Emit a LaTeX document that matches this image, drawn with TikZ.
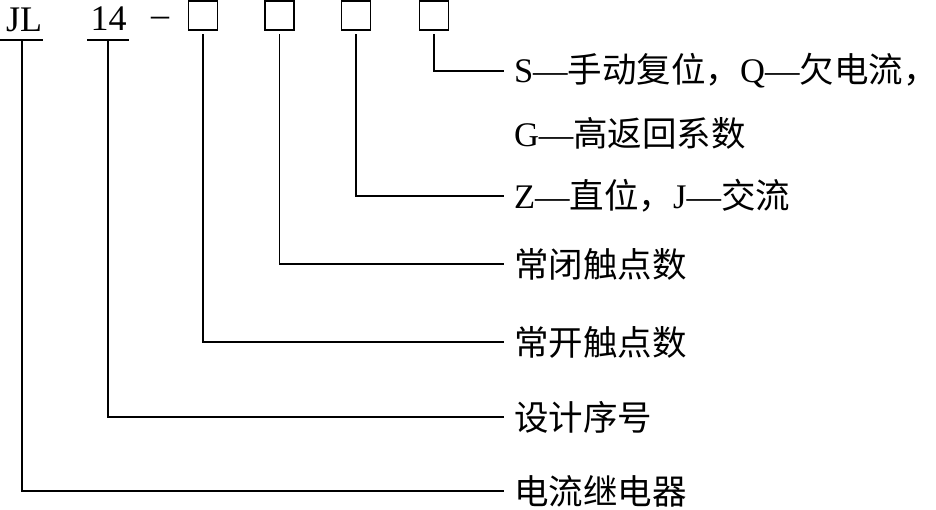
\documentclass[tikz,border=0pt]{standalone}
\usepackage{fontspec}
\setmainfont{Liberation Serif}
\newfontfamily\cjk{Noto Sans CJK SC}
\newcommand{\zh}[1]{{\cjk #1}}
\begin{document}
\begin{tikzpicture}[x=1pt,y=-1pt,
  conn/.style={line width=1.8pt,line cap=rect},
  codebox/.style={draw,line width=1.8pt,minimum size=29pt,inner sep=0pt,outer sep=0pt},
  code/.style={font=\fontsize{36}{36}\selectfont,inner sep=0pt,anchor=base},
  lbl/.style={font=\fontsize{34.5}{36}\selectfont,anchor=west,inner xsep=11pt,inner ysep=0pt,outer sep=0pt}]
\useasboundingbox (0,0) rectangle (936,510);
% code letters
\node[code] (jl) at (24,32) {JL};
\node[code] (n14) at (108.5,31) {14};
\node[code] (dash) at (160,27) {–};
% boxes
\node[codebox] (b1) at (203,15.5) {};
\node[codebox] (b2) at (279.5,15.5) {};
\node[codebox] (b3) at (356,15.5) {};
\node[codebox] (b4) at (434,15.5) {};
% labels
\node[lbl] (t1) at (503,71) {S—\zh{手动复位，}Q—\zh{欠电流}\rlap{\zh{，}}};
\node[lbl] (tg) at (503,133) {G—\zh{高返回系数}};
\node[lbl] (t2) at (503,196) {Z—\zh{直位，}J—\zh{交流}};
\node[lbl] (t3) at (503,264) {\zh{常闭触点数}};
\node[lbl] (t4) at (503,342) {\zh{常开触点数}};
\node[lbl] (t5) at (503,417) {\zh{设计序号}};
\node[lbl] (t6) at (503,491) {\zh{电流继电器}};
% underlines
\coordinate (u1a) at (0,40); \coordinate (u1b) at (43,40);
\coordinate (u2a) at (87,40); \coordinate (u2b) at (129,40);
\draw[line width=1.8pt] (u1a) -- (u1b);
\draw[line width=1.8pt] (u2a) -- (u2b);
\coordinate (j1) at (22,40);
\coordinate (j2) at (108,40);
% connectors
\draw[conn] ([yshift=-5pt]b4.south) |- (t1.west);
\draw[conn] ([yshift=-5pt]b3.south) |- (t2.west);
\draw[conn] ([yshift=-5pt]b2.south) |- (t3.west);
\draw[conn] ([yshift=-5pt]b1.south) |- (t4.west);
\draw[conn] (j2) |- (t5.west);
\draw[conn] (j1) |- (t6.west);
\end{tikzpicture}
\end{document}
